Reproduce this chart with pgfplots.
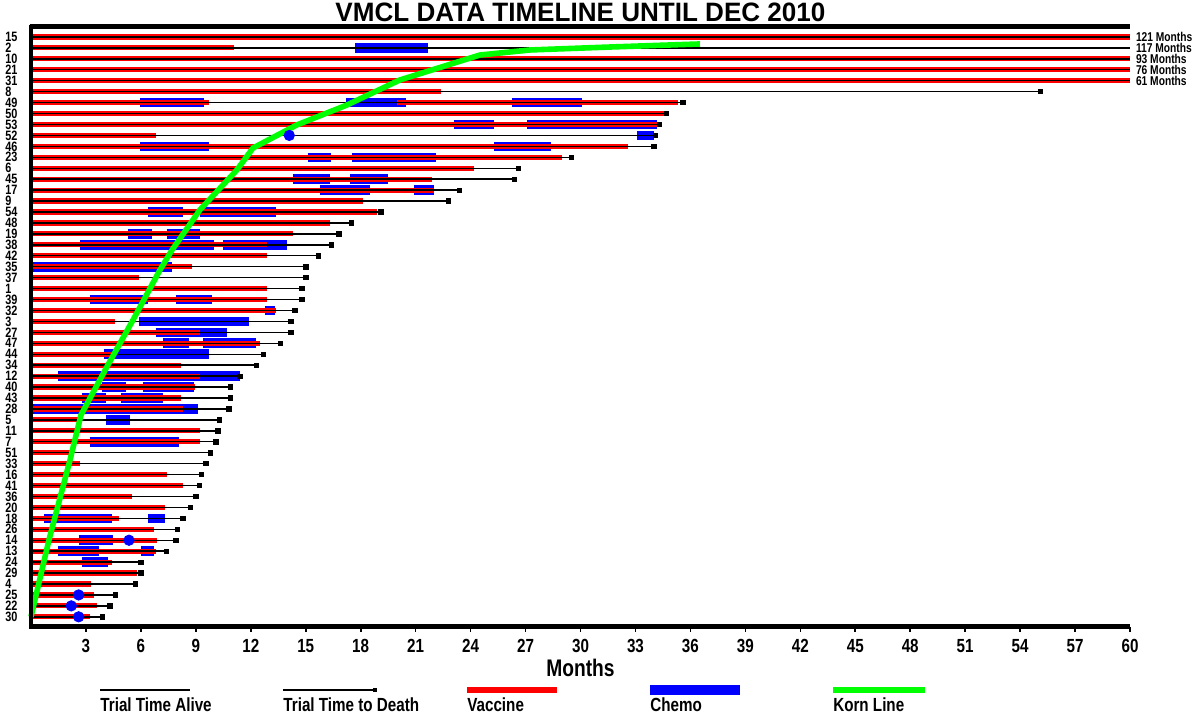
\documentclass[border=0pt]{standalone}
\usepackage{fontspec}
\setmainfont{Liberation Sans}[FakeStretch=0.8]
\newfontfamily\titlefont{Liberation Sans}[FakeStretch=0.98]
\usepackage{pgfplots}
\pgfplotsset{compat=1.18}
\definecolor{vred}{HTML}{FF0000}
\definecolor{vblue}{HTML}{0000FF}
\definecolor{vgreen}{HTML}{00FF00}

\begin{document}
\begin{tikzpicture}
\begin{axis}[
  name=ax, scale only axis, width=549.5pt, height=300pt,
  xmin=0, xmax=60, ymin=0.09, ymax=54.93, y dir=reverse,
  clip=false, axis line style={draw=none},
  xtick={3,6,...,60}, xtick pos=left, tick align=outside,
  major tick length=2.5pt, xtick style={black, line width=0.8pt},
  ytick={1,...,54}, ytick style={draw=none},
  yticklabels={15,2,10,21,31,8,49,50,53,52,46,23,6,45,17,9,54,48,19,38,42,35,37,1,39,32,3,27,47,44,34,12,40,43,28,5,11,7,51,33,16,41,36,20,18,26,14,13,24,29,4,25,22,30},
  yticklabel style={anchor=west, inner sep=0pt, xshift=-10.5pt, font=\fontsize{6.8}{6.8}\selectfont\bfseries},
  xticklabel style={font=\fontsize{9.5}{9.5}\selectfont\bfseries},
  /pgf/number format/assume math mode=true,
  xlabel={Months}, xlabel style={font=\fontsize{12}{12}\selectfont\bfseries, yshift=3.5pt},
  unbounded coords=jump]

% chemo
\addplot[vblue, line width=4.8pt, mark=none] coordinates {
(17.7,2) (21.7,2) (nan,nan)
(5.95,7) (9.44,7) (nan,nan) (17.2,7) (20.5,7) (nan,nan) (26.26,7) (30.08,7) (nan,nan)
(23.1,9) (25.3,9) (nan,nan) (27.1,9) (34.2,9) (nan,nan)
(33.1,10) (34.0,10) (nan,nan)
(5.95,11) (9.7,11) (nan,nan) (25.3,11) (28.4,11) (nan,nan)
(15.1,12) (16.4,12) (nan,nan) (17.5,12) (22.1,12) (nan,nan)
(14.3,14) (16.3,14) (nan,nan) (17.4,14) (19.5,14) (nan,nan)
(15.8,15) (18.5,15) (nan,nan) (20.9,15) (22.0,15) (nan,nan)
(6.4,17) (8.3,17) (nan,nan) (9.2,17) (13.4,17) (nan,nan)
(5.3,19) (6.6,19) (nan,nan) (7.4,19) (9.2,19) (nan,nan)
(2.7,20) (10.0,20) (nan,nan) (10.5,20) (14.0,20) (nan,nan)
(0,22) (7.7,22) (nan,nan)
(3.2,25) (6.4,25) (nan,nan) (7.9,25) (9.9,25) (nan,nan)
(12.8,26) (13.3,26) (nan,nan)
(5.9,27) (11.9,27) (nan,nan)
(6.8,28) (10.7,28) (nan,nan)
(7.2,29) (8.6,29) (nan,nan) (9.4,29) (12.3,29) (nan,nan)
(4.0,30) (9.7,30) (nan,nan)
(1.5,32) (11.4,32) (nan,nan)
(3.9,33) (5.2,33) (nan,nan) (6.1,33) (8.9,33) (nan,nan)
(2.8,34) (4.1,34) (nan,nan) (4.9,34) (7.2,34) (nan,nan)
(0,35) (9.1,35) (nan,nan)
(4.1,36) (5.4,36) (nan,nan)
(3.2,38) (8.1,38) (nan,nan)
(0.7,45) (4.4,45) (nan,nan) (6.4,45) (7.3,45) (nan,nan)
(2.6,47) (4.5,47) (nan,nan)
(1.5,48) (3.7,48) (nan,nan) (6.0,48) (6.7,48) (nan,nan)
(2.8,49) (4.2,49)
};

% vaccine
\addplot[vred, line width=2.6pt, mark=none] coordinates {
(0,1) (60,1) (nan,nan) (0,2) (11.1,2) (nan,nan) (0,3) (60,3) (nan,nan)
(0,4) (60,4) (nan,nan) (0,5) (60,5) (nan,nan) (0,6) (22.4,6) (nan,nan)
(0,7) (9.7,7) (nan,nan) (20.0,7) (35.3,7) (nan,nan)
(0,8) (34.6,8) (nan,nan) (0,9) (34.2,9) (nan,nan) (0,10) (6.8,10) (nan,nan)
(0,11) (32.6,11) (nan,nan) (0,12) (29.0,12) (nan,nan) (0,13) (24.2,13) (nan,nan)
(0,14) (21.9,14) (nan,nan) (0,15) (22.0,15) (nan,nan) (0,16) (18.1,16) (nan,nan)
(0,17) (18.9,17) (nan,nan) (0,18) (16.3,18) (nan,nan) (0,19) (14.3,19) (nan,nan)
(0,20) (12.9,20) (nan,nan) (0,21) (12.9,21) (nan,nan) (0,22) (8.8,22) (nan,nan)
(0,23) (5.9,23) (nan,nan) (0,24) (12.9,24) (nan,nan) (0,25) (12.9,25) (nan,nan)
(0,26) (13.4,26) (nan,nan) (0,27) (4.6,27) (nan,nan) (0,28) (9.2,28) (nan,nan)
(0,29) (12.5,29) (nan,nan) (0,30) (4.4,30) (nan,nan) (0,31) (8.2,31) (nan,nan)
(0,32) (9.2,32) (nan,nan) (0,33) (8.95,33) (nan,nan) (0,34) (8.2,34) (nan,nan)
(0,35) (8.3,35) (nan,nan) (0,36) (2.7,36) (nan,nan) (0,37) (9.2,37) (nan,nan)
(0,38) (9.2,38) (nan,nan) (0,39) (2.2,39) (nan,nan) (0,40) (2.7,40) (nan,nan)
(0,41) (7.4,41) (nan,nan) (0,42) (8.3,42) (nan,nan) (0,43) (5.5,43) (nan,nan)
(0,44) (7.3,44) (nan,nan) (0,45) (4.8,45) (nan,nan) (0,46) (6.7,46) (nan,nan)
(0,47) (6.9,47) (nan,nan) (0,48) (6.8,48) (nan,nan) (0,49) (4.4,49) (nan,nan)
(0,50) (5.8,50) (nan,nan) (0,51) (3.3,51) (nan,nan) (0,52) (3.45,52) (nan,nan)
(0.2,53) (3.6,53) (nan,nan) (0,54) (3.2,54)
};

% trial time lines
\addplot[black, line width=0.7pt, mark=none] coordinates {
(0,1) (60,1) (nan,nan) (0,2) (60,2) (nan,nan) (0,3) (60,3) (nan,nan)
(0,4) (60,4) (nan,nan) (0,5) (60,5) (nan,nan) (0,6) (55.1,6) (nan,nan)
(0,7) (35.6,7) (nan,nan) (0,8) (34.7,8) (nan,nan) (0,9) (34.3,9) (nan,nan)
(0,10) (34.1,10) (nan,nan) (0,11) (34.0,11) (nan,nan) (0,12) (29.5,12) (nan,nan)
(0,13) (26.6,13) (nan,nan) (0,14) (26.4,14) (nan,nan) (0,15) (23.4,15) (nan,nan)
(0,16) (22.8,16) (nan,nan) (0,17) (19.1,17) (nan,nan) (0,18) (17.5,18) (nan,nan)
(0,19) (16.8,19) (nan,nan) (0,20) (16.4,20) (nan,nan) (0,21) (15.7,21) (nan,nan)
(0,22) (15.0,22) (nan,nan) (0,23) (15.0,23) (nan,nan) (0,24) (14.8,24) (nan,nan)
(0,25) (14.8,25) (nan,nan) (0,26) (14.4,26) (nan,nan) (0,27) (14.2,27) (nan,nan)
(0,28) (14.2,28) (nan,nan) (0,29) (13.6,29) (nan,nan) (0,30) (12.7,30) (nan,nan)
(0,31) (12.3,31) (nan,nan) (0,32) (11.4,32) (nan,nan) (0,33) (10.9,33) (nan,nan)
(0,34) (10.9,34) (nan,nan) (0,35) (10.8,35) (nan,nan) (0,36) (10.3,36) (nan,nan)
(0,37) (10.2,37) (nan,nan) (0,38) (10.1,38) (nan,nan) (0,39) (9.8,39) (nan,nan)
(0,40) (9.55,40) (nan,nan) (0,41) (9.3,41) (nan,nan) (0,42) (9.2,42) (nan,nan)
(0,43) (9.0,43) (nan,nan) (0,44) (8.7,44) (nan,nan) (0,45) (8.3,45) (nan,nan)
(0,46) (8.0,46) (nan,nan) (0,47) (7.9,47) (nan,nan) (0,48) (7.4,48) (nan,nan)
(0,49) (6.0,49) (nan,nan) (0,50) (6.0,50) (nan,nan) (0,51) (5.7,51) (nan,nan)
(0,52) (4.6,52) (nan,nan) (0,53) (4.3,53) (nan,nan) (0,54) (3.9,54)
};

% deaths
\addplot[only marks, mark=square*, mark size=1.1pt, black] coordinates {
(55.1,6) (35.6,7) (34.7,8) (34.3,9) (34.1,10) (34.0,11) (29.5,12) (26.6,13)
(26.4,14) (23.4,15) (22.8,16) (19.1,17) (17.5,18) (16.8,19) (16.4,20) (15.7,21)
(15.0,22) (15.0,23) (14.8,24) (14.8,25) (14.4,26) (14.2,27) (14.2,28) (13.6,29)
(12.7,30) (12.3,31) (11.4,32) (10.9,33) (10.9,34) (10.8,35) (10.3,36) (10.2,37)
(10.1,38) (9.8,39) (9.55,40) (9.3,41) (9.2,42) (9.0,43) (8.7,44) (8.3,45)
(8.0,46) (7.9,47) (7.4,48) (6.0,49) (6.0,50) (5.7,51) (4.6,52) (4.3,53) (3.9,54)
};

% Korn line
\addplot[vgreen, line width=2.8pt, mark=none, line join=round] coordinates {
(0,54.0) (0.98,46.98) (2.13,39.67) (2.73,35.55) (4.20,30.98) (5.57,26.87)
(7.04,22.30) (7.70,20.47) (9.22,16.81) (11.24,13.16) (12.12,11.15) (14.52,9.04)
(17.25,7.22) (20.14,4.93) (24.51,2.65) (27.24,2.19) (31.77,1.91) (36.52,1.64)
};

% chemo single doses
\addplot[only marks, mark=*, mark size=2.6pt, vblue] coordinates {
(14.1,10) (5.35,47) (2.6,52) (2.2,53) (2.6,54)
};

% frame
\draw[line width=2.5pt] (axis cs:-0.07,0.09) -- (axis cs:60,0.09);
\draw[line width=2.5pt] (axis cs:-0.07,54.93) -- (axis cs:60,54.93);
\draw[line width=2pt] (axis cs:0,-0.1) -- (axis cs:0,55.1);

% title
\node[font=\titlefont\fontsize{13.3}{13.3}\selectfont\bfseries, inner sep=0pt]
  at ([yshift=7.5pt]axis cs:30,0.09) {VMCL DATA TIMELINE UNTIL DEC 2010};

% right labels
\begin{scope}[every node/.style={anchor=west, inner sep=0pt, xshift=2.8pt, font=\fontsize{6.4}{6.4}\selectfont\bfseries}]
\node at (axis cs:60,1) {121 Months};
\node at (axis cs:60,2) {117 Months};
\node at (axis cs:60,3) {93 Months};
\node at (axis cs:60,4) {76 Months};
\node at (axis cs:60,5) {61 Months};
\end{scope}

% legend
\begin{scope}[every node/.style={anchor=west, inner sep=0pt, font=\fontsize{9.5}{9.5}\selectfont\bfseries}]
\draw[black, line width=0.7pt] (axis cs:3.77,60.69) -- (axis cs:8.68,60.69);
\node at (axis cs:3.77,62.05) {Trial Time Alive};
\draw[black, line width=0.7pt] (axis cs:13.76,60.69) -- (axis cs:18.78,60.69);
\fill[black] ([shift={(-1pt,-1pt)}]axis cs:18.78,60.69) rectangle ++(2pt,2pt);
\node at (axis cs:13.76,62.05) {Trial Time to Death};
\draw[vred, line width=2.6pt] (axis cs:23.8,60.69) -- (axis cs:28.71,60.69);
\node at (axis cs:23.8,62.05) {Vaccine};
\draw[vblue, line width=5pt] (axis cs:33.79,60.69) -- (axis cs:38.70,60.69);
\node at (axis cs:33.79,62.05) {Chemo};
\draw[vgreen, line width=3pt] (axis cs:43.78,60.69) -- (axis cs:48.80,60.69);
\node at (axis cs:43.78,62.05) {Korn Line};
\end{scope}
\end{axis}
\pgfresetboundingbox
\path ([shift={(-15.5pt,-44pt)}]ax.south west) rectangle ([shift={(35pt,13.5pt)}]ax.north east);
\end{tikzpicture}
\end{document}
